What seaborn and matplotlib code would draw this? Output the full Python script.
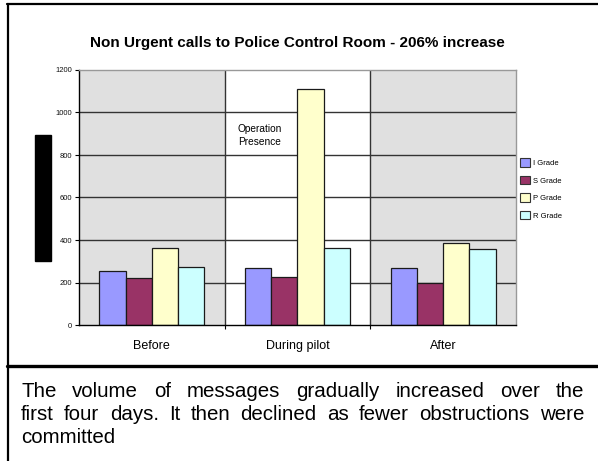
import matplotlib
matplotlib.use("Agg")
import matplotlib.pyplot as plt
from matplotlib.patches import Rectangle, Patch
from matplotlib.lines import Line2D
import pandas as pd
import seaborn as sns

# veriler
donemler = ["Before", "During pilot", "After"]
gruplar = ["I Grade", "S Grade", "P Grade", "R Grade"]
i_grade = [255, 268, 267]
s_grade = [222, 226, 198]
p_grade = [364, 1109, 386]
r_grade = [271, 361, 356]
renkler = ["#9999FF", "#993366", "#FFFFCC", "#CCFFFF"]
y_ticks = [0, 200, 400, 600, 800, 1000, 1200]

baslik = "Non Urgent calls to Police Control Room - 206% increase"
not_satirlari = ["The volume of messages gradually increased over the",
                 "first four days. It then declined as fewer obstructions were",
                 "committed"]

# uzun formatta tablo
kayitlar = []
for grup, degerler in zip(gruplar, [i_grade, s_grade, p_grade, r_grade]):
    for donem, deger in zip(donemler, degerler):
        kayitlar.append({"donem": donem, "grup": grup, "deger": deger})
df = pd.DataFrame(kayitlar)

sns.set_style("white")
plt.rcParams["font.family"] = ["Liberation Sans", "DejaVu Sans"]
plt.rcParams["text.color"] = "black"
plt.rcParams["xtick.color"] = "black"
plt.rcParams["ytick.color"] = "black"

W, H = 598, 461
fig = plt.figure(figsize=(W / 100, H / 100), dpi=100)
ax = fig.add_axes([79 / W, 1 - 325 / H, (516 - 79) / W, (325 - 70) / H])

# arka plan şeritleri
ax.axvspan(-0.5, 0.5, color="#E0E0E0", zorder=0, lw=0)
ax.axvspan(1.5, 2.5, color="#E0E0E0", zorder=0, lw=0)

sns.barplot(data=df, x="donem", y="deger", hue="grup", order=donemler,
            hue_order=gruplar, palette=renkler, saturation=1, width=0.72,
            gap=0, edgecolor="#1a1a1a", linewidth=0.9, legend=False, ax=ax,
            errorbar=None)

for y in y_ticks[1:-1]:
    ax.axhline(y, color="#333333", lw=1, zorder=0.5)
for x in [0.5, 1.5]:
    ax.axvline(x, color="#333333", lw=1, zorder=0.5)

ax.set_xlim(-0.5, 2.5)
ax.set_ylim(0, 1200)
ax.set_yticks(y_ticks)
ax.set_xlabel("")
ax.set_ylabel("")
ax.tick_params(axis="y", length=3, width=0.8, pad=2, labelsize=5.5,
               labelcolor="#111111", direction="out", left=True)
ax.tick_params(axis="x", which="major", length=0, pad=11, labelsize=9,
               labelcolor="black")
ax.set_xticks([0.5, 1.5], minor=True)
ax.tick_params(axis="x", which="minor", length=3, width=0.8, direction="out",
               bottom=True)

for s in ["left", "bottom"]:
    ax.spines[s].set_color("black")
    ax.spines[s].set_linewidth(1)
for s in ["top", "right"]:
    ax.spines[s].set_color("#999999")
    ax.spines[s].set_linewidth(1)

ax.text(0.59, 945, "Operation\nPresence", fontsize=7.3, va="top", ha="left",
        linespacing=1.35)

# lejant
tutamaclar = [Patch(facecolor=c, edgecolor="#333333", lw=0.8) for c in renkler]
ax.legend(tutamaclar, gruplar, loc="center left",
          bbox_to_anchor=(520 / W, 1 - 189 / H), bbox_transform=fig.transFigure,
          frameon=False, fontsize=5.5, handlelength=1.3, handleheight=1.3,
          labelspacing=1.15, handletextpad=0.4, borderaxespad=0, borderpad=0)

# başlık
fig.text(297 / W, 1 - 43 / H, baslik, ha="center", va="center",
         fontsize=11, fontweight="bold")

# sol taraftaki siyah kutu
fig.add_artist(Rectangle((35 / W, 1 - 261 / H), 16 / W, 126 / H,
                         transform=fig.transFigure, color="black"))

# çerçeve çizgileri
fig.add_artist(Line2D([7 / W, 1], [1 - 4.5 / H] * 2, color="black", lw=1.6))
fig.add_artist(Line2D([8 / W] * 2, [1 - 4 / H, 0], color="black", lw=1.6))
fig.add_artist(Line2D([7 / W, 1], [1 - 366 / H] * 2, color="black", lw=2.4))

# alt açıklama metni (iki yana yaslı)
r = fig.canvas.get_renderer()
sol, sag = 21, 584
fs = 14.8
for i, satir in enumerate(not_satirlari):
    y = 1 - (397 + i * 23) / H
    kelimeler = satir.split(" ")
    if i == len(not_satirlari) - 1 or len(kelimeler) == 1:
        fig.text(sol / W, y, satir, fontsize=fs, va="baseline")
        continue
    genislikler = []
    for k in kelimeler:
        t = fig.text(0, 0, k, fontsize=fs)
        genislikler.append(t.get_window_extent(renderer=r).width)
        t.remove()
    bosluk = (sag - sol - sum(genislikler)) / (len(kelimeler) - 1)
    x = sol
    for k, g in zip(kelimeler, genislikler):
        fig.text(x / W, y, k, fontsize=fs, va="baseline")
        x += g + bosluk

fig.savefig("out.png", dpi=100)
